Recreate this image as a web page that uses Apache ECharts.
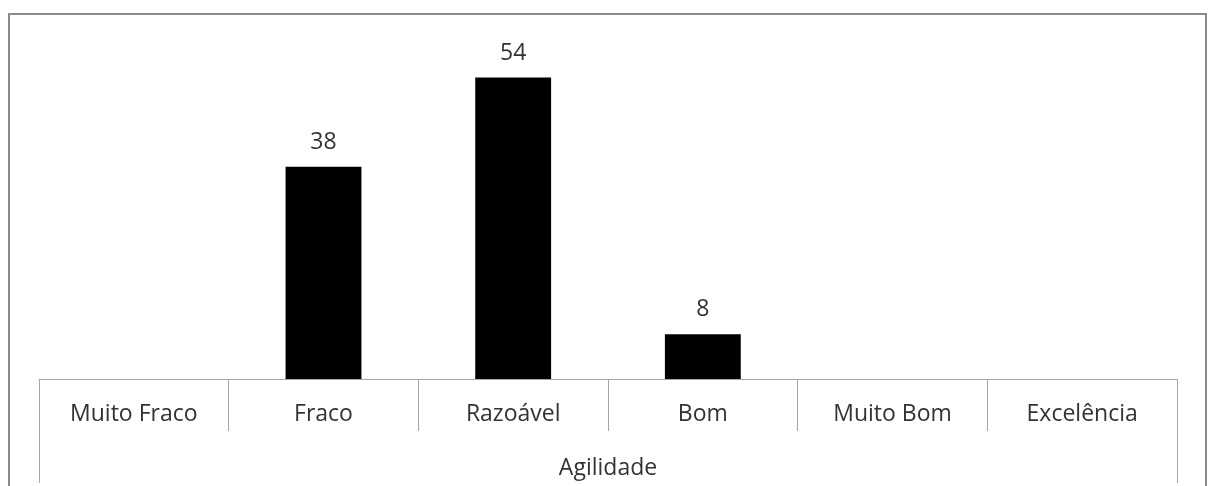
<!DOCTYPE html>
<html>
<head>
<meta charset="utf-8">
<script src="https://cdn.jsdelivr.net/npm/echarts@6/dist/echarts.min.js"></script>
<style>
html,body{margin:0;padding:0;background:#fff;}
#chart{width:1208px;height:486px;}
</style>
</head>
<body>
<div id="chart"></div>
<script>
const categories = ['Muito Fraco', 'Fraco', 'Razoável', 'Bom', 'Muito Bom', 'Excelência'];
const values = [null, 38, 54, 8, null, null];
const groupLabel = ['Agilidade'];

const FONT = '"Open Sans", sans-serif';
const TXT = '#333333';
const chart = echarts.init(document.getElementById('chart'));
chart.setOption({
  animation: false,
  backgroundColor: '#fff',
  graphic: [{
    type: 'rect',
    shape: { x: 9, y: 14, width: 1197, height: 490 },
    style: { fill: 'none', stroke: '#8a8a8a', lineWidth: 2 },
    silent: true
  }],
  grid: { left: 39, right: 31, top: 44, bottom: 107, containLabel: false },
  xAxis: [{
    type: 'category',
    data: categories,
    position: 'bottom',
    axisLine: { show: true, lineStyle: { color: '#a6a6a6', width: 1 } },
    axisTick: { show: true, length: 52, lineStyle: { color: '#a6a6a6', width: 1 } },
    axisLabel: { color: TXT, fontFamily: FONT, fontSize: 23, margin: 24, interval: 0 },
    splitLine: { show: false }
  }, {
    type: 'category',
    data: groupLabel,
    position: 'bottom',
    axisLine: { show: false },
    axisTick: { show: true, length: 104, lineStyle: { color: '#a6a6a6', width: 1 } },
    axisLabel: { color: TXT, fontFamily: FONT, fontSize: 23, margin: 78 },
    splitLine: { show: false }
  }],
  yAxis: {
    type: 'value',
    min: 0, max: 60,
    show: false,
    splitLine: { show: false }
  },
  series: [{
    type: 'bar',
    xAxisIndex: 0,
    data: values,
    barCategoryGap: '60%',
    itemStyle: { color: '#000' },
    label: {
      show: true, position: 'top', distance: 13,
      color: TXT, fontFamily: FONT, fontSize: 23
    }
  }]
});
</script>
</body>
</html>
